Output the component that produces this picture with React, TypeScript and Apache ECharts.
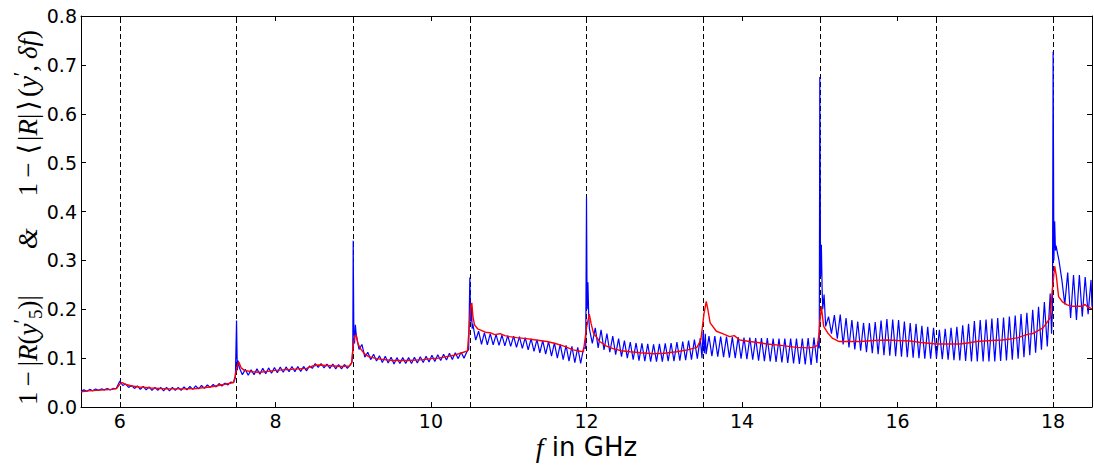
import React, { useEffect, useRef } from "react";
import * as echarts from "echarts";

// ---- axis ranges & ticks ----
const X_MIN = 5.5;
const X_MAX = 18.5;
const Y_MIN = 0;
const Y_MAX = 0.8;
const Y_STEP = 0.1;
const xTickLabels = [6, 8, 10, 12, 14, 16, 18];
const dashedF = [6, 7.5, 9, 10.5, 12, 13.5, 15, 16.5, 18];
const xTicks = Array.from(new Set([...xTickLabels, ...dashedF])).sort((a, b) => a - b);

// ---- blue curve: 1-|R(y'_5)|, sampled every 0.0375 GHz from each segment start ----
const BLUE_STEP = 0.0375;
const blueSegStarts = [5.5, 6.0, 7.5, 9.0, 10.5, 12.0, 13.5, 15.0, 16.5, 18.0];
const blueA = [0.032, 0.035, 0.032, 0.036, 0.033, 0.037, 0.034, 0.037, 0.035, 0.038, 0.035, 0.038, 0.037];
const blueB = [
  0.053, 0.044, 0.047, 0.040, 0.044, 0.038, 0.043, 0.036, 0.042, 0.035,
  0.041, 0.034, 0.040, 0.034, 0.040, 0.033, 0.040, 0.033, 0.040, 0.034,
  0.040, 0.034, 0.041, 0.035, 0.042, 0.036, 0.043, 0.037, 0.044, 0.038,
  0.045, 0.040, 0.046, 0.041, 0.048, 0.043, 0.049, 0.045, 0.051, 0.050,
];
const blueC = [
  0.177, 0.080, 0.066, 0.077, 0.065, 0.076, 0.066, 0.078, 0.067, 0.079,
  0.068, 0.080, 0.069, 0.081, 0.070, 0.082, 0.071, 0.082, 0.072, 0.083,
  0.072, 0.083, 0.073, 0.083, 0.074, 0.084, 0.079, 0.089, 0.081, 0.089,
  0.080, 0.088, 0.079, 0.088, 0.078, 0.087, 0.078, 0.087, 0.079, 0.086,
];
const blueD = [
  0.340, 0.150, 0.118, 0.128, 0.102, 0.112, 0.097, 0.108, 0.094, 0.105,
  0.091, 0.104, 0.090, 0.102, 0.088, 0.101, 0.089, 0.101, 0.089, 0.101,
  0.089, 0.102, 0.090, 0.103, 0.091, 0.104, 0.092, 0.106, 0.093, 0.107,
  0.095, 0.108, 0.096, 0.110, 0.097, 0.111, 0.099, 0.112, 0.100, 0.113,
];
const blueE = [
  0.265, 0.170, 0.137, 0.155, 0.128, 0.152, 0.127, 0.150, 0.127, 0.148,
  0.126, 0.147, 0.125, 0.146, 0.124, 0.145, 0.122, 0.144, 0.120, 0.142,
  0.117, 0.140, 0.114, 0.138, 0.111, 0.136, 0.108, 0.134, 0.104, 0.131,
  0.100, 0.128, 0.097, 0.126, 0.094, 0.124, 0.091, 0.122, 0.089, 0.121,
];
const blueF = [
  0.430, 0.160, 0.130, 0.162, 0.121, 0.158, 0.117, 0.150, 0.112, 0.145,
  0.107, 0.140, 0.103, 0.136, 0.100, 0.133, 0.097, 0.131, 0.095, 0.130,
  0.094, 0.129, 0.093, 0.128, 0.093, 0.129, 0.093, 0.130, 0.094, 0.131,
  0.094, 0.133, 0.095, 0.134, 0.096, 0.136, 0.097, 0.138, 0.099, 0.141,
];
const blueG = [
  0.155, 0.108, 0.145, 0.104, 0.145, 0.103, 0.144, 0.102, 0.144, 0.101,
  0.143, 0.100, 0.143, 0.099, 0.142, 0.098, 0.142, 0.097, 0.141, 0.095,
  0.141, 0.094, 0.141, 0.093, 0.140, 0.092, 0.140, 0.091, 0.140, 0.090,
  0.140, 0.089, 0.140, 0.088, 0.140, 0.087, 0.141, 0.086, 0.142, 0.090,
];
const blueH = [
  0.675, 0.200, 0.165, 0.185, 0.150, 0.188, 0.140, 0.189, 0.128, 0.182,
  0.122, 0.178, 0.118, 0.175, 0.115, 0.172, 0.112, 0.172, 0.110, 0.174,
  0.108, 0.177, 0.106, 0.180, 0.105, 0.179, 0.104, 0.178, 0.103, 0.175,
  0.102, 0.172, 0.101, 0.170, 0.100, 0.166, 0.099, 0.164, 0.099, 0.162,
];
const blueI = [
  0.100, 0.158, 0.098, 0.160, 0.097, 0.162, 0.096, 0.164, 0.095, 0.167,
  0.094, 0.170, 0.093, 0.176, 0.093, 0.178, 0.093, 0.179, 0.093, 0.181,
  0.093, 0.182, 0.094, 0.183, 0.095, 0.185, 0.097, 0.187, 0.099, 0.190,
  0.102, 0.193, 0.106, 0.199, 0.111, 0.205, 0.117, 0.215, 0.124, 0.232,
];
const blueJ = [0.727, 0.330, 0.300, 0.260, 0.210, 0.275, 0.182, 0.270, 0.178, 0.270, 0.185, 0.266, 0.190, 0.260];
const blueSegments = [blueA, blueB, blueC, blueD, blueE, blueF, blueG, blueH, blueI, blueJ];

// fine detail around the resonance spikes: [f, value]
const blueSpikeDetail: [number, number][] = [
  [7.485, 0.060], [7.51, 0.075], [7.52, 0.095],
  [8.985, 0.092], [8.995, 0.120], [9.008, 0.160], [9.018, 0.130], [9.028, 0.168],
  [10.485, 0.118], [10.51, 0.175], [10.52, 0.210], [10.53, 0.160],
  [11.99, 0.120], [12.008, 0.200], [12.018, 0.255], [12.028, 0.190],
  [13.485, 0.100], [13.515, 0.110], [13.528, 0.150],
  [14.98, 0.135], [14.993, 0.120], [15.01, 0.267], [15.02, 0.332], [15.03, 0.240], [15.055, 0.230],
  [17.98, 0.150], [17.992, 0.200], [18.01, 0.300], [18.02, 0.380], [18.03, 0.320],
  [18.5, 0.205],
];

// ---- red curve: 1-<|R|>(y', delta f) ----
const redF = [
  5.5, 5.6, 5.7, 5.8, 5.9, 5.96, 6.0, 6.03, 6.08, 6.15, 6.25, 6.4, 6.6, 6.8, 7.0, 7.1, 7.2, 7.3, 7.4, 7.46,
  7.48, 7.51, 7.53, 7.56, 7.6, 7.7, 7.8, 7.9, 8.0, 8.1, 8.2, 8.3, 8.4, 8.48, 8.55, 8.65, 8.75, 8.85, 8.95,
  8.98, 9.0, 9.02, 9.035, 9.06, 9.1, 9.15, 9.2, 9.3, 9.4, 9.5, 9.6, 9.7, 9.8, 9.9, 10.0, 10.1, 10.2, 10.3, 10.4,
  10.47, 10.49, 10.51, 10.525, 10.54, 10.56, 10.6, 10.7, 10.76, 10.82, 10.89, 10.95, 11.01, 11.1, 11.23, 11.35,
  11.49, 11.6, 11.7, 11.83, 11.92, 11.96,
  12.0, 12.036, 12.06, 12.09, 12.17, 12.25, 12.35, 12.45, 12.56, 12.7, 12.86, 13.0, 13.16, 13.3, 13.42, 13.47,
  13.51, 13.54, 13.56, 13.59, 13.67, 13.75, 13.84, 13.9, 13.97, 14.1, 14.2, 14.32, 14.5, 14.7, 14.85, 14.92, 14.97,
  14.99, 15.0, 15.02, 15.035, 15.05, 15.1, 15.16, 15.25, 15.4, 15.52, 15.7, 15.86, 16.0, 16.16, 16.3, 16.5,
  16.65, 16.8, 16.9, 17.02, 17.2, 17.35, 17.45, 17.55, 17.66, 17.75, 17.87, 17.93, 17.96, 17.99,
  18.02, 18.04, 18.07, 18.12, 18.18, 18.25, 18.32, 18.38, 18.41, 18.44, 18.5,
];
const redV = [
  0.031, 0.033, 0.034, 0.035, 0.036, 0.038, 0.047, 0.050, 0.046, 0.043, 0.041, 0.039, 0.037, 0.037, 0.038, 0.040, 0.042, 0.045, 0.048, 0.050,
  0.062, 0.085, 0.092, 0.080, 0.075, 0.072, 0.071, 0.073, 0.075, 0.076, 0.077, 0.078, 0.079, 0.084, 0.086, 0.085, 0.084, 0.083, 0.084,
  0.090, 0.125, 0.145, 0.148, 0.130, 0.118, 0.108, 0.103, 0.099, 0.097, 0.095, 0.095, 0.095, 0.096, 0.097, 0.099, 0.100, 0.103, 0.106, 0.111,
  0.115, 0.160, 0.205, 0.213, 0.185, 0.168, 0.160, 0.153, 0.152, 0.148, 0.150, 0.146, 0.144, 0.142, 0.140, 0.137,
  0.134, 0.130, 0.125, 0.117, 0.114, 0.113,
  0.162, 0.190, 0.170, 0.151, 0.134, 0.125, 0.119, 0.115, 0.113, 0.111, 0.109, 0.110, 0.113, 0.117, 0.122, 0.137,
  0.190, 0.216, 0.200, 0.172, 0.155, 0.150, 0.144, 0.146, 0.137, 0.134, 0.132, 0.129, 0.126, 0.122, 0.121, 0.122, 0.126,
  0.150, 0.172, 0.206, 0.185, 0.165, 0.152, 0.141, 0.134, 0.134, 0.134, 0.136, 0.137, 0.136, 0.135, 0.132, 0.129,
  0.129, 0.129, 0.131, 0.134, 0.136, 0.137, 0.139, 0.142, 0.148, 0.151, 0.162, 0.175, 0.182, 0.240,
  0.288, 0.270, 0.226, 0.215, 0.209, 0.206, 0.206, 0.206, 0.210, 0.205, 0.201,
];

function buildBlue(): [number, number][] {
  const pts: [number, number][] = [];
  blueSegments.forEach((seg, s) => {
    seg.forEach((v, i) => pts.push([blueSegStarts[s] + i * BLUE_STEP, v]));
  });
  blueSpikeDetail.forEach((p) => pts.push([p[0], p[1]]));
  pts.sort((a, b) => a[0] - b[0]);
  return pts;
}

const SANS = "'DejaVu Sans', sans-serif";
const SERIF = "'Liberation Serif', 'DejaVu Serif', serif";

export default function App() {
  const ref = useRef<HTMLDivElement>(null);

  useEffect(() => {
    if (!ref.current) return;
    const chart = echarts.init(ref.current, undefined, { renderer: "svg" });
    const blueData = buildBlue();
    const redData = redF.map((f, i) => [f, redV[i]]);

    const axisLineStyle = { color: "#000", width: 1 };
    const FS = 27;
    const LH = 34;
    const mathRich = {
      n: { fontFamily: SERIF, fontSize: FS, lineHeight: LH, color: "#000" },
      b: { fontFamily: SERIF, fontSize: FS, lineHeight: LH, color: "#000", padding: [0, 3, 0, 3] },
      i: { fontFamily: SERIF, fontSize: FS, lineHeight: LH, fontStyle: "italic", color: "#000" },
      c: { fontFamily: SERIF, fontSize: FS, lineHeight: LH, color: "#000", padding: [0, 6, 0, 0] },
      o: { fontFamily: SERIF, fontSize: FS, lineHeight: LH, color: "#000", padding: [0, 5, 0, 5] },
      p: { fontFamily: SERIF, fontSize: 20, lineHeight: 20, color: "#000", verticalAlign: "top" },
      s: { fontFamily: SERIF, fontSize: 19, lineHeight: 19, color: "#000", verticalAlign: "bottom" },
      g: { fontFamily: SERIF, fontSize: FS, lineHeight: LH, fontStyle: "italic", color: "#000", padding: [0, 32, 0, 46] },
      e: { fontFamily: SERIF, fontSize: FS, lineHeight: LH, color: "#000", padding: [0, 12, 0, 0] },
      t: { fontFamily: SANS, fontSize: 26, color: "#000" },
      fi: { fontFamily: SERIF, fontSize: 28, fontStyle: "italic", color: "#000" },
    };

    const option: any = {
      animation: false,
      backgroundColor: "#fff",
      grid: { left: 81, right: 2, top: 16, bottom: 59, containLabel: false, outerBoundsMode: "none" },
      xAxis: [
        {
          type: "value",
          min: X_MIN,
          max: X_MAX,
          position: "bottom",
          axisLine: { show: true, onZero: false, lineStyle: axisLineStyle },
          axisTick: { show: true, inside: true, length: 5, customValues: xTicks, lineStyle: axisLineStyle },
          axisLabel: { show: true, customValues: xTickLabels, color: "#000", fontSize: 19, fontFamily: SANS, margin: 4 },
          splitLine: { show: false },
          name: "{fi|f}{t| in GHz}",
          nameLocation: "middle",
          nameGap: 26,
          nameMoveOverlap: false,
          nameTextStyle: { rich: mathRich },
        },
        {
          type: "value",
          min: X_MIN,
          max: X_MAX,
          position: "top",
          axisLine: { show: true, onZero: false, lineStyle: axisLineStyle },
          axisTick: { show: true, inside: true, length: 5, customValues: xTicks, lineStyle: axisLineStyle },
          axisLabel: { show: false },
          splitLine: { show: false },
        },
      ],
      yAxis: [
        {
          type: "value",
          min: Y_MIN,
          max: Y_MAX,
          interval: Y_STEP,
          position: "left",
          axisLine: { show: true, onZero: false, lineStyle: axisLineStyle },
          axisTick: { show: true, inside: true, length: 5, lineStyle: axisLineStyle },
          axisLabel: {
            color: "#000",
            fontSize: 19,
            fontFamily: SANS,
            margin: 4,
            formatter: (v: number) => v.toFixed(1),
          },
          splitLine: { show: false },
          name:
            "{n|1}{o|−}{n||}{i|R}{n|(}{i|y}{p|′}{s|5}{n|)|}{g|&}{n|1}{o|−}{b|⟨}{n||}{i|R}{n||}{b|⟩}{n|(}{i|y}{p|′}{c|,}{i|δ}{i|f}{e|)}",
          nameLocation: "middle",
          nameRotate: 90,
          nameGap: 36,
          nameMoveOverlap: false,
          nameTextStyle: { rich: mathRich },
        },
        {
          type: "value",
          min: Y_MIN,
          max: Y_MAX,
          interval: Y_STEP,
          position: "right",
          axisLine: { show: true, onZero: false, lineStyle: axisLineStyle },
          axisTick: { show: true, inside: true, length: 5, lineStyle: axisLineStyle },
          axisLabel: { show: false },
          splitLine: { show: false },
        },
      ],
      series: [
        {
          type: "line",
          name: "blue",
          xAxisIndex: 0,
          yAxisIndex: 0,
          data: blueData,
          showSymbol: false,
          symbol: "none",
          lineStyle: { color: "#0000ff", width: 1.2 },
          z: 2,
          markLine: {
            silent: true,
            symbol: ["none", "none"],
            label: { show: false },
            lineStyle: { color: "#000", width: 1, type: [5, 3], opacity: 1 },
            data: dashedF.map((f) => ({ xAxis: f })),
            z: 1,
          },
        },
        {
          type: "line",
          name: "red",
          xAxisIndex: 0,
          yAxisIndex: 0,
          data: redData,
          showSymbol: false,
          symbol: "none",
          lineStyle: { color: "#ff0000", width: 1.4 },
          z: 3,
        },
      ],
    };
    chart.setOption(option);
    return () => chart.dispose();
  }, []);

  return (
    <div
      ref={ref}
      style={{ position: "fixed", left: 0, top: 0, width: 1094, height: 466, background: "#fff" }}
    />
  );
}
